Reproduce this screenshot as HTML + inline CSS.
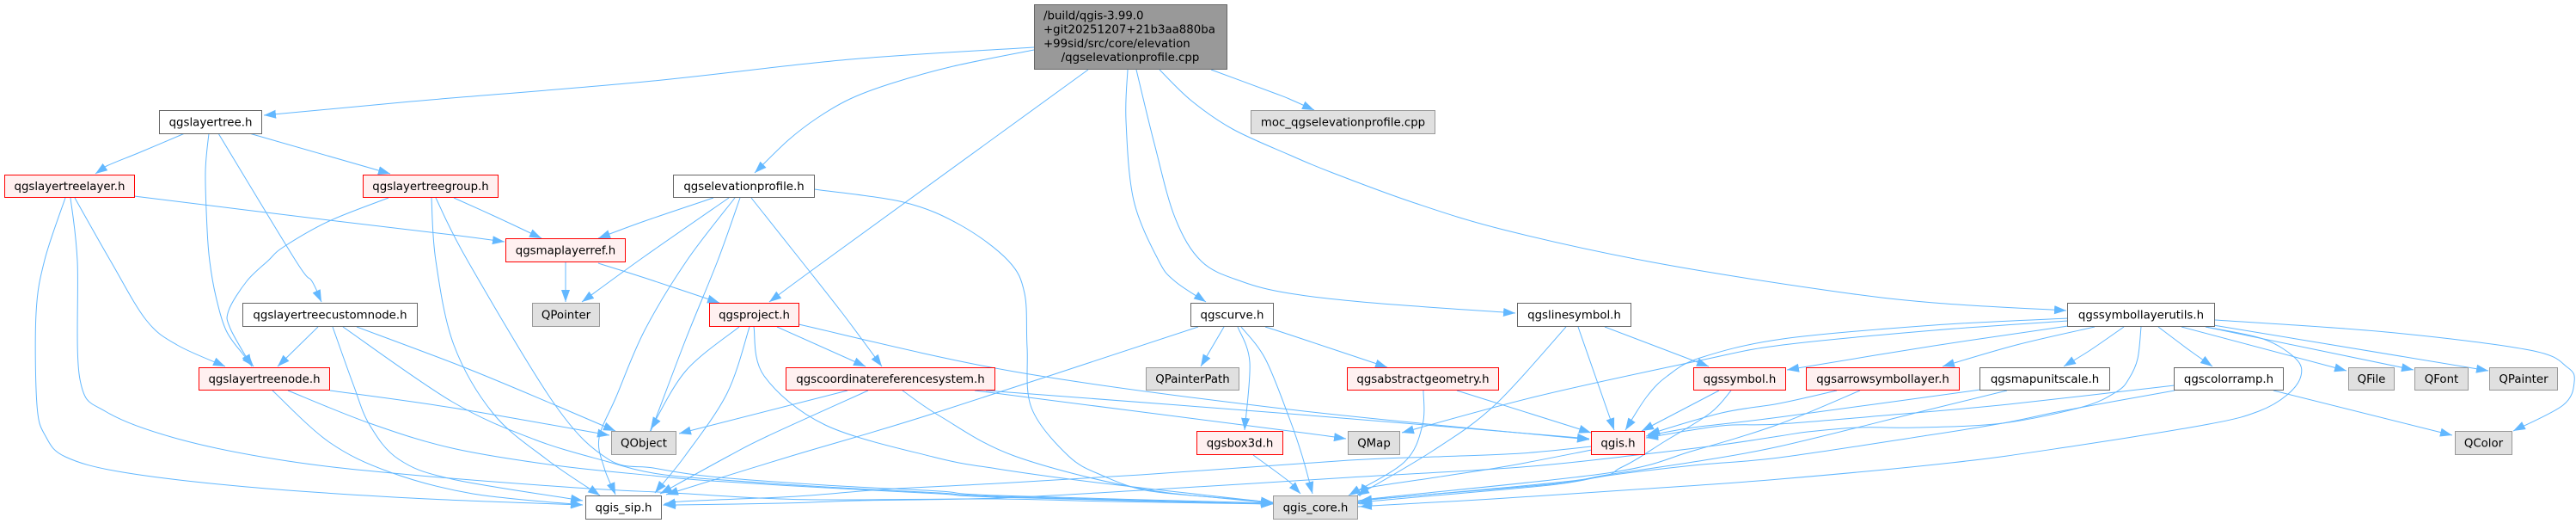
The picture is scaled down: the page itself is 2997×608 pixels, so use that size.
<!DOCTYPE html>
<html><head><meta charset="utf-8"><title>qgselevationprofile.cpp include graph</title>
<style>
html,body{margin:0;padding:0;background:#fff;width:2997px;height:608px;overflow:hidden}
svg{display:block}
.e path{fill:none;stroke:#63b8ff;stroke-width:1;marker-end:url(#a)}
rect{stroke-width:1}
.w{fill:#fff;stroke:#666}
.r{fill:#fff0f0;stroke:#f00}
.g{fill:#e0e0e0;stroke:#999}
.m{fill:#999;stroke:#666}
text{font-family:"DejaVu Sans","Liberation Sans",sans-serif;font-size:13.33px;fill:#000;text-anchor:middle}
</style></head><body>
<svg width="2997" height="608" viewBox="0 0 2997 608" xmlns="http://www.w3.org/2000/svg">
<defs><marker id="a" markerUnits="userSpaceOnUse" markerWidth="14" markerHeight="11" viewBox="0 0 13.4 9.6" refX="13.4" refY="4.8" orient="auto"><path d="M0,0L13.4,4.8L0,9.6z" fill="#63b8ff"/></marker></defs>
<g class="e">
<path d="M1203,55 989,69 750,95 478,118 307,134"/>
<path d="M1203,58 1109,77 1037,97 989,115 951,137 917,163 878,201"/>
<path d="M1266,81 960,303 895,351"/>
<path d="M1312,81 1310,140 1319,233 1348,303 1367,327 1403,351"/>
<path d="M1322,81 1343,167 1367,253 1398,304 1444,327 1500,341 1596,352 1763,364"/>
<path d="M1349,81 1386,117 1434,150 1500,180 1548,200 1643,235 1749,267 1918,304 2122,337 2250,352 2404,361"/>
<path d="M1409,81 1482,108 1500,115 1529,128"/>
<path d="M215,155 163,177 124,193 111,202"/>
<path d="M290,155 454,202"/>
<path d="M243,155 239,200 241,267 244,304 251,344 263,384 282,411 295,426"/>
<path d="M254,155 344,303 363,327 374,351"/>
<path d="M156,228 383,256 526,273 587,281"/>
<path d="M87,230 129,304 170,372 206,401 262,426"/>
<path d="M76,230 52,302 42,364 43,471 53,507 76,531 143,549 287,566 478,579 678,587"/>
<path d="M82,230 90,303 93,441 124,479 210,511 335,536 478,552 670,567 783,573 883,579 970,581 1160,580 1293,583 1481,586"/>
<path d="M528,230 579,253 630,277"/>
<path d="M452,230 383,257 330,287 312,303 287,327 266,361 268,382 293,426"/>
<path d="M502,230 507,303 528,401 574,481 636,534 698,576"/>
<path d="M507,230 544,303 646,471 708,534 760,544 827,554 960,564 1093,571 1160,576 1481,585"/>
<path d="M658,305 658,351"/>
<path d="M696,306 750,323 837,352"/>
<path d="M830,230 750,257 696,277"/>
<path d="M848,230 750,298 677,351"/>
<path d="M855,230 799,303 750,384 717,461 697,509 703,544 716,575"/>
<path d="M861,230 835,303 798,394 760,494 757,499"/>
<path d="M947,220 1051,235 1118,262 1173,303 1192,341 1195,404 1200,474 1243,530 1283,553 1333,570 1410,578 1481,585"/>
<path d="M874,230 932,303 980,364 1026,426"/>
<path d="M370,380 323,426"/>
<path d="M415,380 540,427 646,471 716,501"/>
<path d="M387,380 411,447 430,494 464,534 526,557 678,582"/>
<path d="M399,380 526,467 622,511 708,537 760,550 827,557 960,566 1093,573 1160,577 1481,586"/>
<path d="M384,454 526,474 709,506"/>
<path d="M317,454 383,514 454,549 550,574 678,587"/>
<path d="M335,454 430,492 526,521 646,541 760,553 827,559 960,567 1093,574 1160,578 1481,586"/>
<path d="M904,380 1007,426"/>
<path d="M860,380 798,431 757,499"/>
<path d="M872,380 846,457 797,530 762,573"/>
<path d="M877,380 889,437 960,494 1085,531 1160,545 1276,561 1460,582 1481,584"/>
<path d="M929,377 1180,432 1500,476 1849,511"/>
<path d="M986,454 790,504"/>
<path d="M1010,454 893,507 848,530 768,574"/>
<path d="M1050,454 1094,484 1180,530 1327,568 1460,582 1481,584"/>
<path d="M1134,454 1500,501 1566,510"/>
<path d="M1147,454 1500,481 1849,510"/>
<path d="M1472,380 1500,389 1614,427"/>
<path d="M1424,380 1397,426"/>
<path d="M1440,380 1454,421 1448,500"/>
<path d="M1394,380 1085,481 921,530 775,575"/>
<path d="M1444,380 1472,417 1500,486 1515,530 1527,574"/>
<path d="M1458,529 1500,560 1513,574"/>
<path d="M1695,454 1851,503"/>
<path d="M1656,454 1655,494 1634,537 1569,576"/>
<path d="M1836,380 1878,500"/>
<path d="M1867,380 1988,426"/>
<path d="M1822,380 1739,471 1667,524 1579,576"/>
<path d="M2000,454 1910,501"/>
<path d="M2014,454 1990,480 1937,513 1887,543 1837,558 1582,582"/>
<path d="M2137,454 2070,469 2003,480 1917,505"/>
<path d="M2164,454 2070,493 1970,524 1870,550 1603,579 1582,584"/>
<path d="M2304,453 2070,485 1970,497 1915,507"/>
<path d="M2335,454 2237,478 2070,519 1970,537 1870,552 1803,563 1603,580 1582,585"/>
<path d="M2645,454 2853,506"/>
<path d="M2530,448 2337,470 2203,482 2070,493 2003,495 1915,509"/>
<path d="M2530,454 2403,477 2330,492 2237,507 2070,532 1970,541 1870,553 1803,564 1603,582 1582,586"/>
<path d="M2406,370 2250,378 2074,394 1978,416 1940,437 1916,461 1891,500"/>
<path d="M2406,373 2250,384 2074,401 1978,419 1787,461 1631,503"/>
<path d="M2406,379 2250,402 2079,430"/>
<path d="M2437,380 2346,401 2260,426"/>
<path d="M2471,380 2432,407 2401,426"/>
<path d="M2511,380 2547,407 2574,426"/>
<path d="M2491,380 2487,417 2477,440 2463,455 2423,473 2330,492 2230,497 2163,497 2103,502 2070,507 2003,517 1913,528 1770,543 1570,555 1327,570 1160,579 1000,582 910,585 787,587 772,587"/>
<path d="M2566,380 2633,394 2671,417 2677,437 2661,459 2628,478 2570,493 2403,520 2270,538 2070,557 1903,569 1737,580 1595,588 1582,589"/>
<path d="M2538,380 2730,431"/>
<path d="M2566,380 2808,430"/>
<path d="M2575,378 2895,431"/>
<path d="M2577,372 2776,386 2943,407 2987,427 2995,444 2982,471 2924,501"/>
<path d="M1852,519 1770,527 1670,531 1570,535 1327,552 1160,562 1027,569 927,577 793,583 772,587"/>
<path d="M1852,523 1753,542 1670,555 1587,568 1582,577"/>
</g>
<rect class="m" x="1203.5" y="5.5" width="224" height="75"/>
<text x="1214" y="22.7" style="text-anchor:start">/build/qgis-3.99.0</text>
<text x="1214" y="38.7" style="text-anchor:start">+git20251207+21b3aa880ba</text>
<text x="1214" y="55" style="text-anchor:start">+99sid/src/core/elevation</text>
<text x="1315" y="71">/qgselevationprofile.cpp</text>

<rect class="w" x="185.5" y="128.5" width="119" height="27"/><text x="245" y="146.5">qgslayertree.h</text>
<rect class="g" x="1455.5" y="128.5" width="214" height="27"/><text x="1562.5" y="146.5">moc_qgselevationprofile.cpp</text>

<rect class="r" x="5.5" y="203.5" width="151" height="26"/><text x="81" y="221">qgslayertreelayer.h</text>
<rect class="r" x="422.5" y="203.5" width="157" height="26"/><text x="501" y="221">qgslayertreegroup.h</text>
<rect class="w" x="783.5" y="203.5" width="164" height="26"/><text x="865.5" y="221">qgselevationprofile.h</text>

<rect class="r" x="588.5" y="277.5" width="139" height="27"/><text x="658" y="295.5">qgsmaplayerref.h</text>

<rect class="w" x="282.5" y="352.5" width="203" height="27"/><text x="384" y="370.5">qgslayertreecustomnode.h</text>
<rect class="g" x="619.5" y="352.5" width="78" height="27"/><text x="658.5" y="370.5">QPointer</text>
<rect class="r" x="825.5" y="352.5" width="104" height="27"/><text x="877.5" y="370.5">qgsproject.h</text>
<rect class="w" x="1385.5" y="352.5" width="96" height="27"/><text x="1433.5" y="370.5">qgscurve.h</text>
<rect class="w" x="1765.5" y="352.5" width="132" height="27"/><text x="1831.5" y="370.5">qgslinesymbol.h</text>
<rect class="w" x="2405.5" y="352.5" width="171" height="27"/><text x="2491" y="370.5">qgssymbollayerutils.h</text>

<rect class="r" x="231.5" y="427.5" width="152" height="26"/><text x="307.5" y="445">qgslayertreenode.h</text>
<rect class="r" x="914.5" y="427.5" width="243" height="26"/><text x="1036" y="445">qgscoordinatereferencesystem.h</text>
<rect class="g" x="1333.5" y="427.5" width="108" height="26"/><text x="1387.5" y="445">QPainterPath</text>
<rect class="r" x="1567.5" y="427.5" width="176" height="26"/><text x="1655.5" y="445">qgsabstractgeometry.h</text>
<rect class="r" x="1970.5" y="427.5" width="107" height="26"/><text x="2024" y="445">qgssymbol.h</text>
<rect class="r" x="2101.5" y="427.5" width="178" height="26"/><text x="2190.5" y="445">qgsarrowsymbollayer.h</text>
<rect class="w" x="2303.5" y="427.5" width="151" height="26"/><text x="2379" y="445">qgsmapunitscale.h</text>
<rect class="w" x="2529.5" y="427.5" width="127" height="26"/><text x="2593" y="445">qgscolorramp.h</text>
<rect class="g" x="2732.5" y="427.5" width="53" height="26"/><text x="2759" y="445">QFile</text>
<rect class="g" x="2809.5" y="427.5" width="62" height="26"/><text x="2840.5" y="445">QFont</text>
<rect class="g" x="2896.5" y="427.5" width="79" height="26"/><text x="2936" y="445">QPainter</text>

<rect class="g" x="711.5" y="501.5" width="75" height="27"/><text x="749" y="519.5">QObject</text>
<rect class="r" x="1392.5" y="501.5" width="100" height="27"/><text x="1442.5" y="519.5">qgsbox3d.h</text>
<rect class="g" x="1568.5" y="501.5" width="60" height="27"/><text x="1598.5" y="519.5">QMap</text>
<rect class="r" x="1851.5" y="501.5" width="62" height="27"/><text x="1882.5" y="519.5">qgis.h</text>
<rect class="g" x="2856.5" y="501.5" width="66" height="27"/><text x="2889.5" y="519.5">QColor</text>

<rect class="w" x="681.5" y="576.5" width="88" height="27"/><text x="725.5" y="594.5">qgis_sip.h</text>
<rect class="g" x="1481.5" y="576.5" width="98" height="27"/><text x="1530.5" y="594.5">qgis_core.h</text>
</svg>
<script>
document.querySelectorAll('.e path').forEach(function(el){
  var p=el.getAttribute('d').slice(1).split(' ').map(function(s){return s.split(',').map(Number)});
  if(p.length<3)return;
  var d='M'+p[0];
  for(var i=0;i<p.length-1;i++){
    var a=p[Math.max(i-1,0)],b=p[i],c=p[i+1],e=p[Math.min(i+2,p.length-1)];
    d+=' C'+(b[0]+(c[0]-a[0])/6)+','+(b[1]+(c[1]-a[1])/6)+' '+(c[0]-(e[0]-b[0])/6)+','+(c[1]-(e[1]-b[1])/6)+' '+c[0]+','+c[1];
  }
  el.setAttribute('d',d);
});
</script>
</body></html>
